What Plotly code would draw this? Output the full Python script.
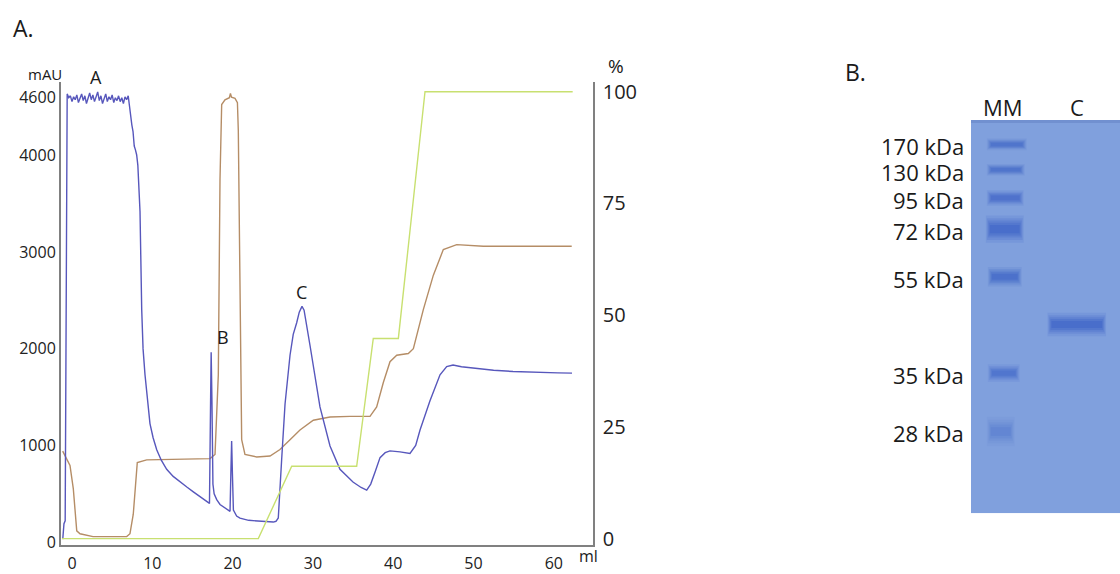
import plotly.graph_objects as go

# ---------------- DATA ----------------
# Chromatogram (x in ml)
uv_ml = [-1.15, -1.0, -0.85, -0.7,
         -0.6, -0.4, -0.2, 0.0, 0.2, 0.4, 0.6, 0.8, 1.0, 1.2, 1.4, 1.6, 1.8, 2.0, 2.2, 2.4, 2.6, 2.8,
         3.0, 3.2, 3.4, 3.6, 3.8, 4.0, 4.2, 4.4, 4.6, 4.8, 5.0, 5.2, 5.4, 5.6, 5.8, 6.0, 6.2, 6.4,
         6.6, 6.8, 7.0,
         7.15, 7.3, 7.45, 7.6, 7.75, 7.9, 8.05, 8.2, 8.35, 8.47, 8.68, 8.85, 9.09, 9.4, 9.71, 10.1,
         10.55, 11.1, 11.79, 12.6, 13.45, 14.3, 15.11, 16.1, 17.06, 17.12, 17.25, 17.33, 17.42,
         17.55, 17.7, 18.02, 18.43, 19.0, 19.43, 19.68, 19.78, 19.88, 19.98, 20.1, 20.5, 20.92,
         22.0, 23.0, 24.0, 25.07, 25.4, 25.69, 26.11, 26.53, 27.15, 27.55, 27.98, 28.3, 28.64,
         28.9, 29.64, 30.88, 32.13, 33.37, 34.99, 36.0, 36.7, 37.2, 37.73, 38.36, 39.0, 39.6,
         40.85, 42.09, 42.8, 43.34, 44.58, 45.83, 46.66, 47.45, 48.5, 50.0, 50.81, 52.5, 54.92,
         56.5, 58.5, 60.5, 62.27]
uv_mau = [30, 190, 220, 4400,
          4640, 4600, 4620, 4560, 4610, 4580, 4630, 4550, 4600, 4640, 4570, 4620, 4540, 4600, 4650,
          4580, 4630, 4560, 4610, 4660, 4570, 4620, 4540, 4600, 4640, 4560, 4610, 4580, 4630, 4550,
          4600, 4570, 4620, 4560, 4600, 4540, 4610, 4580, 4620,
          4520, 4380, 4320, 4250, 4100, 4060, 4010, 3900, 3700, 3420, 2409, 2000, 1732, 1450, 1227,
          1080, 955, 850, 753, 680, 621, 570, 520, 460, 402, 400, 1400, 1965, 1500,
          600, 500, 439, 389, 355, 338, 318, 700, 1045, 700, 330, 270, 247,
          225, 217, 210, 207, 215, 250, 857, 1429, 1934, 2150, 2271, 2380, 2440,
          2400, 2035, 1399, 995, 753, 621, 565, 537, 600, 722, 874, 925, 944,
          934, 917, 1000, 1160, 1463, 1732, 1816, 1833, 1815, 1800, 1790, 1778, 1766,
          1760, 1755, 1752, 1749]

cond_ml = [-1.16, -0.25, 0.16, 0.59, 1.0, 2.62, 6.81, 7.22, 7.63, 8.13, 9.3, 13.04, 17.19, 17.81,
           18.22, 18.43, 18.64, 19.05, 19.6, 19.73, 19.86, 20.3, 20.6, 20.71, 20.92, 21.13, 21.54,
           23.0, 24.66, 25.9, 27.15, 28.39, 30.05, 32.13, 34.62, 37.11, 37.94, 38.77, 39.6, 40.44,
           41.88, 42.51, 43.75, 45.0, 46.24, 47.91, 51.22, 55.38, 62.23]
cond_val = [941, 793, 554, 116, 86, 56, 56, 86, 288, 823, 851, 857, 864, 907,
            1732, 3753, 4530, 4578, 4601, 4646, 4606, 4594, 4550, 4258, 2409, 1059, 907,
            881, 891, 958, 1059, 1160, 1261, 1295, 1301, 1301, 1399, 1652, 1867, 1934,
            1952, 2002, 2406, 2763, 3028, 3079, 3063, 3063, 3063]

grad_ml = [-1.25, 23.2, 27.36, 35.45, 37.52, 40.64, 43.96, 62.35]
grad_pct = [0, 0, 16.2, 16.2, 44.8, 44.8, 100, 100]

x_ticks = [0, 10, 20, 30, 40, 50, 60]
mau_ticks = [0, 1000, 2000, 3000, 4000, 4600]
pct_ticks = [0, 25, 50, 75, 100]

peak_labels = ["A", "B", "C"]

# SDS-PAGE gel (migration distance from top of gel)
marker_labels = ["170 kDa", "130 kDa", "95 kDa", "72 kDa", "55 kDa", "35 kDa", "28 kDa"]
marker_migration = [25, 51, 80, 112, 161, 260, 320]
marker_intensity = [0.8, 0.8, 0.85, 1.0, 0.9, 0.75, 0.4]
sample_migration = [210]
sample_intensity = [1.0]
lane_labels = ["MM", "C"]

# ---------------- STYLE / LAYOUT ----------------
W, H = 1120, 574
FONT = "Open Sans"
AX = "#808080"


def px(x):
    return x / W


def py(y):
    return 1 - y / H


fig = go.Figure()

fig.add_trace(go.Scatter(x=grad_ml, y=grad_pct, mode="lines", yaxis="y2",
                         line=dict(color="#C8E070", width=1.4), hoverinfo="skip"))
fig.add_trace(go.Scatter(x=cond_ml, y=cond_val, mode="lines",
                         line=dict(color="#B58D66", width=1.4), hoverinfo="skip"))
fig.add_trace(go.Scatter(x=uv_ml, y=uv_mau, mode="lines",
                         line=dict(color="#5757BC", width=1.4), hoverinfo="skip"))
# anchor trace for gel axes
fig.add_trace(go.Scatter(x=[0, 150], y=[0, 404], mode="markers", xaxis="x3", yaxis="y3",
                         marker=dict(opacity=0), hoverinfo="skip"))

shapes = []
# gel background
shapes.append(dict(type="rect", xref="x3", yref="y3", x0=0, x1=150, y0=0, y1=404,
                   fillcolor="rgb(128,160,221)", line=dict(width=0), layer="below"))
shapes.append(dict(type="rect", xref="x3", yref="y3", x0=0, x1=150, y0=0, y1=3,
                   fillcolor="rgba(90,120,190,0.4)", line=dict(width=0), layer="below"))

marker_thick = [6, 6, 8, 14, 10, 9, 15]
marker_x = [(16, 56), (16, 54), (16, 53), (15, 53), (17, 51), (17, 49), (16, 44)]


def band(x0, x1, yc, th, inten):
    out = []
    layers = [(2.0, 0.12, 0), (1.6, 0.16, 1), (1.25, 0.2, 2), (0.95, 0.25, 3), (0.6, 0.3, 4)]
    for scale, alpha, shrink in layers:
        h = th * scale / 2
        out.append(dict(type="rect", xref="x3", yref="y3", x0=x0 + shrink, x1=x1 - shrink,
                        y0=yc - h, y1=yc + h,
                        fillcolor="rgba(50,90,195,%.3f)" % (alpha * inten),
                        line=dict(width=0), layer="below"))
    return out


for m, inten, th, (x0, x1) in zip(marker_migration, marker_intensity, marker_thick, marker_x):
    shapes += band(x0, x1, m, th, inten)
for m, inten in zip(sample_migration, sample_intensity):
    shapes += band(77, 136, m, 12, inten)

ann = []
txt = "#1a1a1a"
ann.append(dict(text="A.", x=px(11), y=py(25), xref="paper", yref="paper", xanchor="left",
                yanchor="middle", showarrow=False, font=dict(size=23, family=FONT, color=txt)))
ann.append(dict(text="B.", x=px(843), y=py(70), xref="paper", yref="paper", xanchor="left",
                yanchor="middle", showarrow=False, font=dict(size=23, family=FONT, color=txt)))
ann.append(dict(text="mAU", x=px(45), y=py(72), xref="paper", yref="paper", xanchor="center",
                yanchor="middle", showarrow=False, font=dict(size=15, family=FONT, color=txt)))
ann.append(dict(text="%", x=px(616), y=py(64), xref="paper", yref="paper", xanchor="center",
                yanchor="middle", showarrow=False, font=dict(size=19, family=FONT, color=txt)))
ann.append(dict(text="ml", x=px(588), y=py(566), xref="paper", yref="paper", xanchor="center",
                yanchor="middle", showarrow=False, font=dict(size=16, family=FONT, color=txt)))
for lab, (xx, yy) in zip(peak_labels, [(96, 75), (223, 341), (301, 295)]):
    ann.append(dict(text=lab, x=px(xx), y=py(yy), xref="paper", yref="paper", xanchor="center",
                    yanchor="middle", showarrow=False, font=dict(size=18, family=FONT, color=txt)))
for lab, m in zip(marker_labels, marker_migration):
    ann.append(dict(text=lab, x=px(966), y=m + 2, xref="paper", yref="y3", xanchor="right",
                    yanchor="middle", showarrow=False, font=dict(size=22, family=FONT, color=txt)))
for lab, xx in zip(lane_labels, [1003, 1077]):
    ann.append(dict(text=lab, x=px(xx), y=py(106), xref="paper", yref="paper", xanchor="center",
                    yanchor="middle", showarrow=False, font=dict(size=22, family=FONT, color=txt)))

fig.update_layout(
    width=W, height=H, margin=dict(l=0, r=0, t=0, b=0), autosize=False,
    paper_bgcolor="white", plot_bgcolor="rgba(0,0,0,0)", showlegend=False,
    font=dict(family=FONT, color="#222"),
    xaxis=dict(domain=[61 / W, 593 / W], range=[-1.37, 64.88], tickvals=x_ticks,
               showline=True, linecolor=AX, linewidth=2, showgrid=False, zeroline=False,
               ticks="", ticklabelstandoff=2,
               tickfont=dict(size=16, family=FONT, color="#222"), anchor="y"),
    yaxis=dict(domain=[py(555), py(80)], range=[-35.35, 4762.6], tickvals=mau_ticks,
               showline=True, linecolor=AX, linewidth=2, showgrid=False, zeroline=False,
               ticks="", tickfont=dict(size=16, family=FONT, color="#222"), anchor="x"),
    yaxis2=dict(overlaying="y", side="right", anchor="x", range=[-1.528, 102.18],
                tickvals=pct_ticks, showline=True, linecolor=AX, linewidth=1.5,
                showgrid=False, zeroline=False, ticks="", ticklabelstandoff=4,
                tickfont=dict(size=20, family=FONT, color="#222")),
    xaxis3=dict(domain=[971 / W, 1.0], range=[0, 150], visible=False, anchor="y3"),
    yaxis3=dict(domain=[py(522), py(119)], range=[404, 0], visible=False, anchor="x3"),
    shapes=shapes, annotations=ann,
)

post = ("document.documentElement.style.margin='0';"
        "document.documentElement.style.overflow='hidden';"
        "document.body.style.margin='0';document.body.style.padding='0';"
        "document.body.style.overflow='hidden';")
fig.write_html("out.html", config={"displayModeBar": False, "responsive": False},
               post_script=post)
